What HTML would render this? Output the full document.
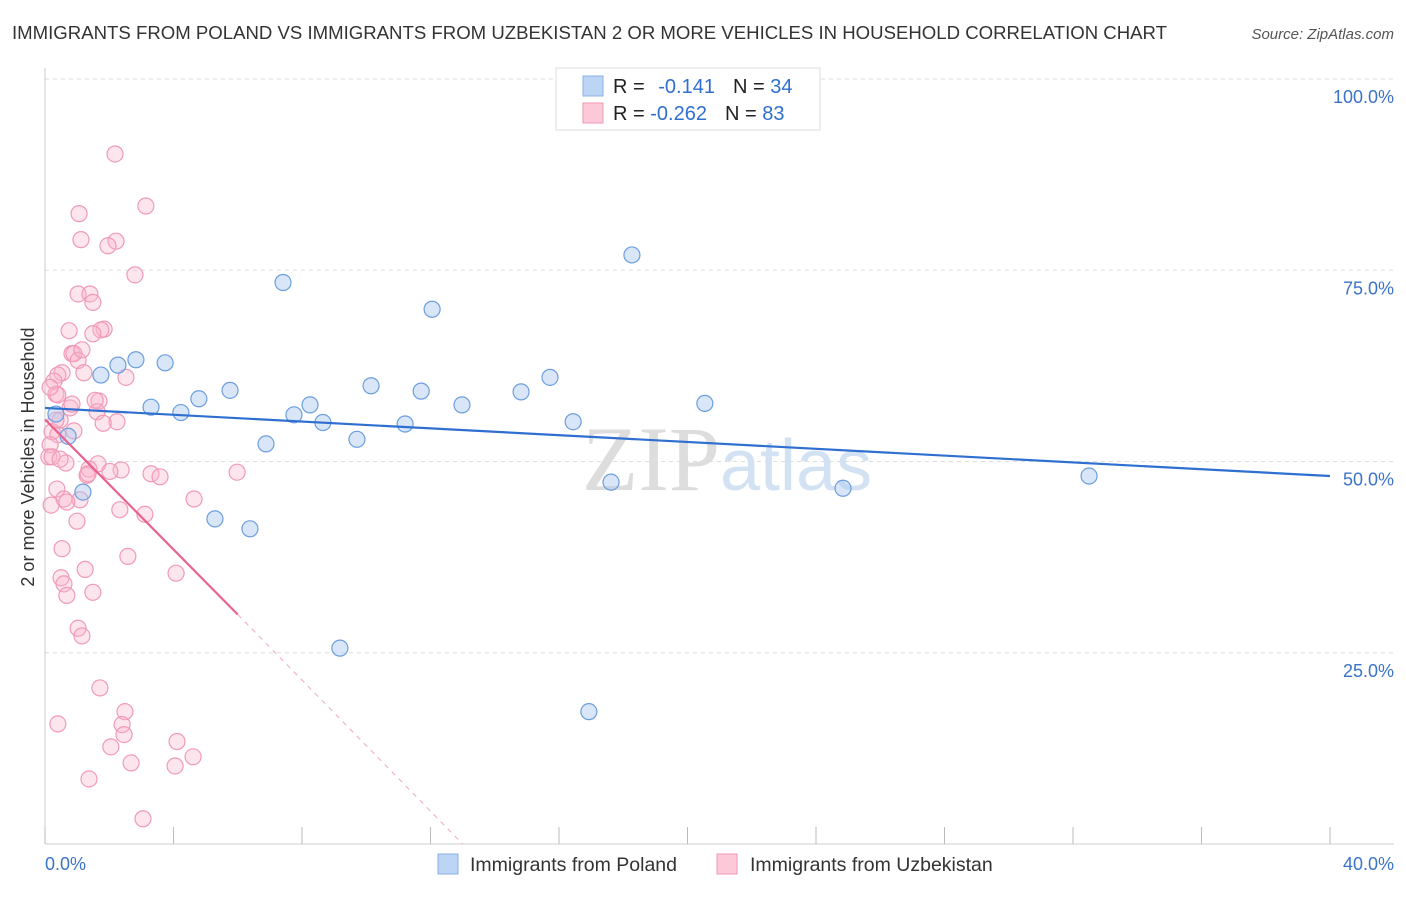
<!DOCTYPE html>
<html><head><meta charset="utf-8"><style>
body{margin:0;background:#fff;font-family:"Liberation Sans",sans-serif;}
</style></head><body>
<svg id="chart" width="1406" height="892" xmlns="http://www.w3.org/2000/svg">
<text x="12" y="39" font-size="18.6" fill="#333">IMMIGRANTS FROM POLAND VS IMMIGRANTS FROM UZBEKISTAN 2 OR MORE VEHICLES IN HOUSEHOLD CORRELATION CHART</text>
<text x="1394" y="39" font-size="15" fill="#555" font-style="italic" text-anchor="end">Source: ZipAtlas.com</text>
<g id="grid"></g>
<text x="720" y="490" font-size="92" font-family="Liberation Serif,serif" fill="#ddd" text-anchor="end">ZIP</text>
<text x="720" y="490" font-size="72" fill="#d3e2f3">atlas</text>
<g id="pts"></g>
<g id="lines"></g>
<text transform="translate(34,457) rotate(-90)" font-size="18" fill="#333" text-anchor="middle">2 or more Vehicles in Household</text>
<text x="45" y="870" font-size="18" fill="#3b73c8">0.0%</text>
<text x="1394" y="870" font-size="18" fill="#3b73c8" text-anchor="end">40.0%</text>
<g>
<rect x="556" y="68" width="264" height="62" fill="#fff" stroke="#ddd"/>
<rect x="583" y="76" width="20" height="20" fill="#bcd5f5" stroke="#8ab0e6"/>
<rect x="583" y="103" width="20" height="20" fill="#fcc9d8" stroke="#ef9ab4"/>
<text x="613" y="93" font-size="20" fill="#222">R = <tspan fill="#2f6fd0" dx="8">-0.141</tspan><tspan dx="18" fill="#222">N = </tspan><tspan fill="#2f6fd0">34</tspan></text>
<text x="613" y="120" font-size="20" fill="#222">R = <tspan fill="#2f6fd0">-0.262</tspan><tspan dx="18" fill="#222">N = </tspan><tspan fill="#2f6fd0">83</tspan></text>
</g>
<g>
<rect x="438" y="854" width="20" height="20" fill="#bcd5f5" stroke="#8ab0e6"/>
<text x="470" y="871" font-size="19.5" fill="#333">Immigrants from Poland</text>
<rect x="717" y="854" width="20" height="20" fill="#fcc9d8" stroke="#ef9ab4"/>
<text x="750" y="871" font-size="19.5" fill="#333">Immigrants from Uzbekistan</text>
</g>
</svg>
<script>
const yTicks=[25,50,75,100];
const yTickLabels=["25.0%","50.0%","75.0%","100.0%"];
const xTicks=[0,4,8,12,16,20,24,28,32,36,40];
const polandX=[0.34,0.72,1.18,1.74,2.27,2.83,3.3,3.74,4.23,4.79,5.29,5.76,6.38,6.88,7.41,7.75,8.25,8.65,9.18,9.71,10.15,11.21,11.71,12.98,12.05,14.82,15.72,16.44,16.93,17.62,18.27,20.54,24.84,32.5];
const polandY=[56.2,53.3,46,61.3,62.6,63.3,57.1,62.9,56.4,58.2,42.5,59.3,41.2,52.3,73.4,56.1,57.4,55.1,25.6,52.9,59.9,54.9,59.2,57.4,69.9,59.1,61,55.2,17.3,47.3,77,57.6,46.5,48.1];
const uzX=[2.18,3.14,1.06,1.12,2.21,1.96,2.8,1.03,1.4,1.49,0.75,1.84,1.74,1.49,0.84,0.9,1.03,0.53,1.21,0.4,2.52,0.28,0.34,0.4,1.68,0.78,1.62,2.24,0.47,1.81,0.9,0.22,0.4,0.16,0.12,0.65,1.65,2.37,1.37,1.31,3.3,3.58,5.98,0.37,0.59,1.09,0.68,4.64,0.19,2.33,3.11,0.996,0.53,2.58,1.25,4.08,0.5,0.59,0.68,1.49,1.03,1.15,1.71,0.4,2.49,2.4,2.46,2.05,4.11,2.68,4.61,4.05,1.37,3.05,0.34,0.16,0.84,1.56,1.34,0.22,1.15,0.47,2.02];
const uzY=[90.2,83.4,82.4,79,78.8,78.2,74.4,71.9,71.9,70.8,67.1,67.3,67.2,66.7,64.1,64.1,63.2,61.6,61.6,61.3,61,60.5,58.8,58.7,57.9,57,56.5,55.2,55.4,55,54,53.9,53.5,52.2,50.6,49.8,49.7,48.9,49,48.2,48.4,48,48.6,46.4,45.1,45,44.7,45.1,44.3,43.7,43.1,42.2,38.6,37.6,35.9,35.4,34.8,34,32.5,32.9,28.2,27.2,20.4,15.7,17.3,15.6,14.3,12.7,13.4,10.6,11.4,10.2,8.5,3.3,55.4,59.7,57.5,58,48.4,50.6,64.6,50.3,48.7];
const poLine=[[0,57],[40,48.1]];
const uzLineSolid=[[0,55.5],[6,30]];
const uzLineDash=[[6,30],[13,0]];
const X0=45,X1=1330,Y0=844,Y100=79;
const sx=v=>X0+(X1-X0)*v/40, sy=v=>Y0-(Y0-Y100)*v/100;
const NS="http://www.w3.org/2000/svg";
function mk(tag,attrs,parent){const e=document.createElementNS(NS,tag);for(const k in attrs)e.setAttribute(k,attrs[k]);parent.appendChild(e);return e;}
const grid=document.getElementById('grid');
yTicks.forEach((t,i)=>{
 const l=mk('line',{x1:X0,x2:1394,y1:sy(t),y2:sy(t),stroke:'#ddd','stroke-dasharray':'4,4'},grid);
 
 
 const tx=mk('text',{x:1394,y:sy(t)+24,'font-size':18,fill:'#3b73c8','text-anchor':'end'},grid);
 tx.textContent=yTickLabels[i];
 
 
});
const ax=mk('line',{x1:X0,x2:1394,y1:Y0,y2:Y0,stroke:'#ccc'},grid);


const ay=mk('line',{x1:X0,x2:X0,y1:68,y2:Y0,stroke:'#ccc'},grid);


xTicks.forEach(t=>{
 const l=mk('line',{x1:sx(t),x2:sx(t),y1:Y0,y2:Y0-17,stroke:'#bbb'},grid);
 
 
});
const pts=document.getElementById('pts');
uzX.forEach((v,i)=>{
 const c=mk('circle',{cx:sx(v),cy:sy(uzY[i]),r:8,fill:'rgba(248,180,203,0.35)',stroke:'#f09ab6','stroke-width':1.2},pts);
 
 
});
polandX.forEach((v,i)=>{
 const c=mk('circle',{cx:sx(v),cy:sy(polandY[i]),r:8,fill:'rgba(170,200,240,0.45)',stroke:'#6b9ede','stroke-width':1.2},pts);
 
 
});
const lines=document.getElementById('lines');
const pl=mk('line',{x1:sx(poLine[0][0]),y1:sy(poLine[0][1]),x2:sx(poLine[1][0]),y2:sy(poLine[1][1]),stroke:'#2f6fd0','stroke-width':2.2},lines);


const ul=mk('line',{x1:sx(uzLineSolid[0][0]),y1:sy(uzLineSolid[0][1]),x2:sx(uzLineSolid[1][0]),y2:sy(uzLineSolid[1][1]),stroke:'#e8628e','stroke-width':2.2},lines);


const ud=mk('line',{x1:sx(uzLineDash[0][0]),y1:sy(uzLineDash[0][1]),x2:sx(uzLineDash[1][0]),y2:sy(uzLineDash[1][1]),stroke:'#f0a8c0','stroke-width':1,'stroke-dasharray':'5,5'},lines);


</script>
</body></html>
